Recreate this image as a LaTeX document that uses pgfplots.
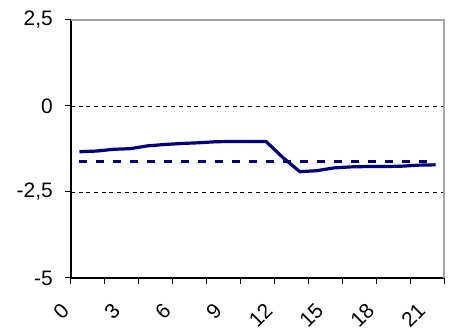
\documentclass[border=0pt]{standalone}
\usepackage{fontspec}
\setmainfont{Liberation Sans}
\usepackage{pgfplots}
\pgfplotsset{compat=1.18}
\definecolor{navyline}{RGB}{0,0,128}
\begin{document}
\begin{tikzpicture}
\begin{axis}[
  scale only axis,
  width=373bp, height=258bp,
  xmin=-0.5, xmax=21.5,
  ymin=-5, ymax=2.5,
  axis lines=left,
  axis line style={-, black, line width=1.1bp},
  tick align=outside,
  major tick length=6bp,
  tick style={black, line width=1bp},
  xtick={-0.5,1.5,...,21.5},
  xticklabels={},
  extra x ticks={0,3,6,9,12,15,18,21},
  extra x tick labels={0,3,6,9,12,15,18,21},
  extra x tick style={major tick length=0pt},
  xticklabel style={xshift=-14bp, yshift=-29bp, rotate=45, anchor=east, inner sep=0pt},
  ytick={-5,2.5},
  yticklabels={-5,{2,5}},
  extra y ticks={-2.5,0},
  extra y tick labels={{-2,5},0},
  extra y tick style={grid=major},
  major grid style={black, dash pattern=on 4bp off 3.7bp, line width=0.9bp},
  yticklabel style={anchor=east, inner sep=0pt, xshift=-12bp},
  ticklabel style={font=\fontsize{21}{22}\selectfont},
  clip=false,
]
\addplot[navyline, line width=3.5bp, dash pattern=on 8bp off 9bp] coordinates {
  (0,-1.62) (21,-1.62)
};
\addplot[navyline, line width=3.2bp, sharp plot] coordinates {
  (0,-1.33) (1,-1.31) (2,-1.26) (3,-1.24) (4,-1.16) (5,-1.12)
  (6,-1.09) (7,-1.07) (8,-1.04) (9,-1.03) (10,-1.03) (11,-1.03)
  (12,-1.50) (13,-1.91) (14,-1.88) (15,-1.80) (16,-1.77) (17,-1.76)
  (18,-1.76) (19,-1.75) (20,-1.72) (21,-1.71)
};
\draw[gray!70, line width=1.1bp] (rel axis cs:0,1) -- (rel axis cs:1,1) -- (rel axis cs:1,0);
\end{axis}
\pgfresetboundingbox
\path[use as bounding box] ([shift={(-71bp,-56bp)}]current axis.south west) rectangle ([shift={(15bp,20bp)}]current axis.north east);
\end{tikzpicture}
\end{document}
